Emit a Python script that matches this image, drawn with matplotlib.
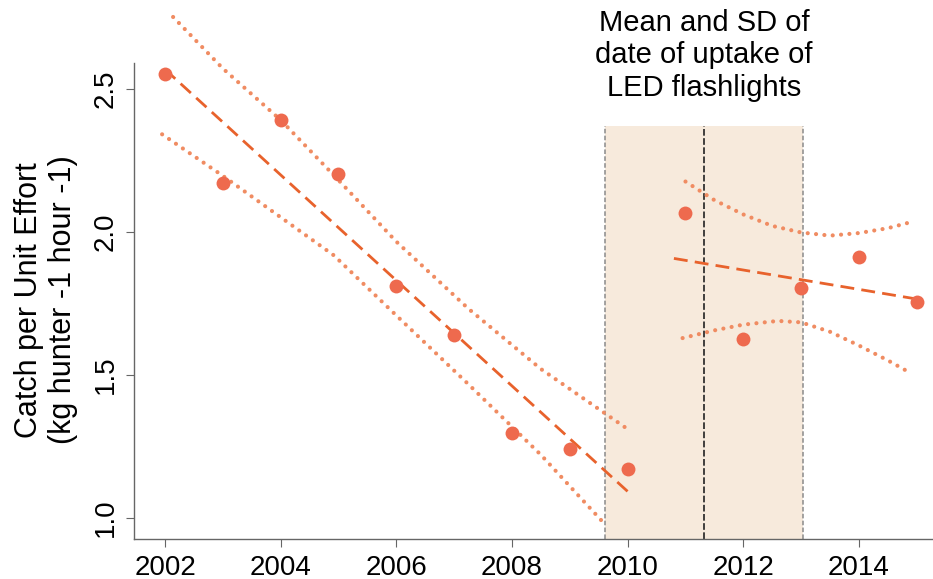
import numpy as np
import matplotlib
matplotlib.use("Agg")
import matplotlib.pyplot as plt
from matplotlib.transforms import blended_transform_factory

plt.rcParams['font.family'] = ['Liberation Sans', 'DejaVu Sans']

# yearly catch per unit effort
years = [2002, 2003, 2004, 2005, 2006, 2007, 2008, 2009, 2010,
         2011, 2012, 2013, 2014, 2015]
cpue = [2.55, 2.17, 2.39, 2.20, 1.81, 1.64, 1.295, 1.24, 1.17,
        2.066, 1.625, 1.804, 1.911, 1.754]

# fitted segments (before / after LED uptake)
seg1_range = [2002, 2010]
seg2_range = [2010.8, 2015]

# confidence bands
upper1_x = [2002.14, 2003.0, 2004.0, 2005.0, 2006.0, 2007.25, 2008.5, 2010.0]
upper1_y = [2.75, 2.57, 2.39, 2.18, 1.965, 1.73, 1.52, 1.31]
lower1_x = [2001.95, 2003.0, 2004.92, 2006.0, 2007.25, 2008.5, 2009.55]
lower1_y = [2.34, 2.195, 1.917, 1.707, 1.466, 1.22, 0.99]
upper2_x = [2011.0, 2011.5, 2012.0, 2012.5, 2013.0, 2013.5, 2014.0, 2014.5, 2014.95]
upper2_y = [2.175, 2.11, 2.06, 2.02, 1.997, 1.986, 1.995, 2.012, 2.036]
lower2_x = [2010.95, 2011.5, 2012.0, 2012.6, 2013.0, 2013.5, 2014.0, 2014.5, 2014.9]
lower2_y = [1.628, 1.655, 1.675, 1.688, 1.683, 1.65, 1.602, 1.55, 1.505]

# LED uptake date
uptake_mean = 2011.32
uptake_sd = 1.71
shade_top = 2.368

pt_col = '#EE6A4E'
fit_col = '#E8622C'
band_col = '#F08C62'

fig = plt.figure(figsize=(9.33, 5.79), dpi=100)
ax = fig.add_axes([0.144, 0.0686, 0.856, 0.823])

ymin, ymax = 0.925, 2.59
ax.set_xlim(2001.47, 2015.28)
ax.set_ylim(ymin, ymax)

# shaded SD region
ax.fill_between([uptake_mean - uptake_sd, uptake_mean + uptake_sd], ymin, shade_top,
                color='#F7EADC', zorder=0, lw=0)
for xv in (uptake_mean - uptake_sd, uptake_mean + uptake_sd):
    ax.plot([xv, xv], [ymin, shade_top], ls=(0, (3, 1.5)), color='#8a8a8a', lw=1.1, zorder=1)
ax.plot([uptake_mean, uptake_mean], [ymin, shade_top], ls=(0, (4, 1.5)), color='#222222',
        lw=1.2, zorder=1)

yrs = np.array(years, dtype=float)
vals = np.array(cpue)
m1 = yrs <= 2010
m2 = yrs >= 2011
for mask, rng in ((m1, seg1_range), (m2, seg2_range)):
    coef = np.polyfit(yrs[mask], vals[mask], 1)
    xx = np.array(rng)
    ax.plot(xx, np.polyval(coef, xx), color=fit_col, lw=2.0,
            ls=(0, (5, 2.6)), zorder=3)

for bx, by in ((upper1_x, upper1_y), (lower1_x, lower1_y),
               (upper2_x, upper2_y), (lower2_x, lower2_y)):
    ax.plot(bx, by, color=band_col, lw=3.0, ls=(0, (0.01, 2.0)),
            dash_capstyle='round', clip_on=False, zorder=2)

ax.plot(years, cpue, 'o', color=pt_col, markersize=10, markeredgewidth=0, zorder=4)

tr = blended_transform_factory(ax.transData, fig.transFigure)
ax.text(uptake_mean, 1 - 9 / 579, "Mean and SD of\ndate of uptake of\nLED flashlights",
        transform=tr, ha='center', va='top', fontsize=21, linespacing=1.2)

for s in ('top', 'right'):
    ax.spines[s].set_visible(False)
for s in ('left', 'bottom'):
    ax.spines[s].set_color('#666666')
    ax.spines[s].set_linewidth(1.0)

ax.set_xticks([2002, 2004, 2006, 2008, 2010, 2012, 2014])
ax.set_yticks([1.0, 1.5, 2.0, 2.5])
ax.set_yticklabels(['1.0', '1.5', '2.0', '2.5'], rotation=90, va='center')
ax.tick_params(axis='both', direction='out', length=6, color='#666666', labelsize=20)
ax.tick_params(axis='y', pad=5)
ax.tick_params(axis='x', pad=5)

fig.text(46 / 933, 0.482, "Catch per Unit Effort\n(kg hunter -1 hour -1)", fontsize=22,
         rotation=90, ha='center', va='center', linespacing=1.2)

fig.savefig("out.png", dpi=100)
